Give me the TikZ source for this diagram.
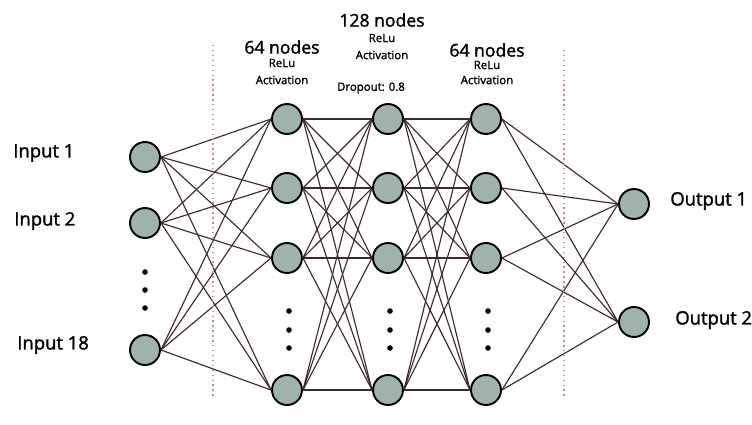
\documentclass[tikz,border=0pt]{standalone}
\usepackage{fontspec}
\setmainfont{Open Sans}
\newfontfamily\labelfont[FakeBold=1.6]{Open Sans}
\usepackage{xcolor}
\usepackage{tikz}
\usetikzlibrary{positioning}

\definecolor{nodegray}{HTML}{9DB3AC}
\definecolor{linkbrown}{HTML}{3E2A2A}
\definecolor{sepred}{HTML}{C98A8A}

\begin{document}
\begin{tikzpicture}[
    x=0.02cm, y=-0.02cm,
    neuron/.style={circle, draw=black, line width=1.1pt, fill=nodegray, minimum size=0.6cm, inner sep=0pt},
    link/.style={draw=linkbrown, line width=0.65pt},
    sep/.style={draw=sepred, dotted, line width=0.8pt},
    lbl/.style={anchor=west, inner sep=0pt, font=\labelfont\fontsize{10.5}{12}\selectfont},
    head/.style={inner sep=0pt, font=\labelfont\fontsize{10}{12}\selectfont},
    small/.style={inner sep=0pt, font=\labelfont\fontsize{6.5}{8}\selectfont},
    vdots/.style={circle, fill=black, inner sep=0pt, minimum size=3.2pt}
]
\useasboundingbox (0,0) rectangle (752,424);

% input layer
\node[neuron] (in1) at (145,157) {};
\node[neuron] (in2) at (145,223) {};
\node[neuron] (in18) at (145,350) {};
\node[lbl] (tin1) at (13,153) {Input 1};
\node[lbl] (tin2) at (14,221) {Input 2};
\node[lbl] (tin18) at (17,345) {Input 18};
\foreach \y [count=\i] in {272,290,308}
    \node[vdots] (din\i) at (145,\y) {};

% hidden layers
\foreach \l/\x in {1/287, 2/388, 3/486} {
    \foreach \y [count=\i] in {119,188,258,390}
        \node[neuron] (h\l n\i) at (\x,\y) {};
    \foreach \y [count=\i] in {311,330,348}
        \node[vdots] (dh\l\i) at (\x+2,\y) {};
}

% output layer
\node[neuron] (out1) at (634,204) {};
\node[neuron] (out2) at (634,322) {};
\node[lbl] (tout1) at (670,201) {Output 1};
\node[lbl] (tout2) at (675,320) {Output 2};

% layer captions
\node[head] (cap1) at (282,47) {64 nodes};
\node[small] (relu1) at (282,63) {ReLu};
\node[small] (act1) at (282,80) {Activation};
\node[head] (cap2) at (382,20) {128 nodes};
\node[small] (relu2) at (382,38) {ReLu};
\node[small] (act2) at (382,55) {Activation};
\node[small] (drop) at (371,88) {Dropout: 0.8};
\node[head] (cap3) at (487,50) {64 nodes};
\node[small] (relu3) at (487,65) {ReLu};
\node[small] (act3) at (487,80) {Activation};

% connections
\foreach \a in {in1,in2,in18}
    \foreach \b in {1,...,4}
        \draw[link] (\a.east) -- (h1n\b.west);
\foreach \a in {1,...,4}
    \foreach \b in {1,...,4} {
        \draw[link] (h1n\a.east) -- (h2n\b.west);
        \draw[link] (h2n\a.east) -- (h3n\b.west);
    }
\foreach \a in {1,...,4}
    \foreach \b in {out1,out2}
        \draw[link] (h3n\a.east) -- (\b.west);

% dotted separators
\coordinate (s1t) at (213,45);
\coordinate (s1b) at (213,396);
\coordinate (s2t) at (564,50);
\coordinate (s2b) at (564,396);
\draw[sep] (s1t) -- (s1b);
\draw[sep] (s2t) -- (s2b);
\end{tikzpicture}
\end{document}
